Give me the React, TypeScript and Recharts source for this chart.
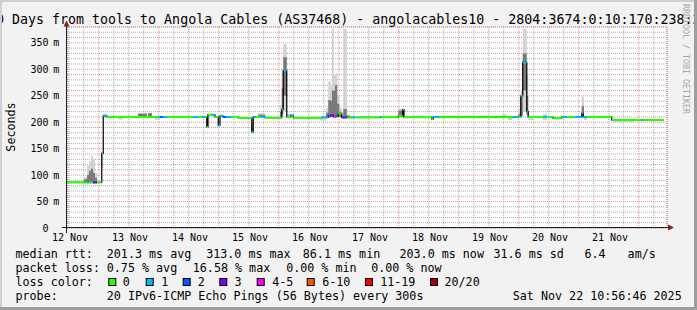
import React from 'react';
import { ComposedChart, XAxis, YAxis, CartesianGrid, Line, Area } from 'recharts';

const FONT = '"DejaVu Sans Mono", "Liberation Mono", monospace';

// time unit: hours since 12 Nov 00:00
const domainX: [number, number] = [11.3, 251.3];
const dataEnd = 250.1;

// median rtt steps (start time, value in ms, loss bin)
const stepStart = [
  11.3, 19.3, 20.1, 21.7, 23.3, 25.2, 25.8, 27.3, 47.7, 48.5,
  49.7, 51.3, 61.7, 63.7, 65.3, 66.5, 67.2, 67.7, 69.3, 70.5,
  71.8, 72.5, 73.7, 74.9, 76.9, 79.7, 85.2, 85.8, 86.7, 88.5,
  90.5, 97.2, 97.8, 99.2, 100.8, 101.8, 113.2, 115.8, 116.8, 117.8,
  118.9, 119.8, 121.2, 122.5, 123.4, 125.2, 126.5, 136.5, 137.2, 143.8,
  145.6, 146.1, 157.2, 157.8, 159.8, 189.8, 191.8, 192.8, 193.6, 195.2,
  195.8, 201.7, 203.3, 205.7, 209.2, 209.7, 211.3, 214.5, 217.2, 217.8,
  219.2, 229.2, 241.2, 241.8,
];
const medianMs = [
  86.1, 86.1, 86.1, 86.1, 86.1, 141, 212, 210, 210, 210,
  210, 210, 210, 210, 210, 210, 191, 214.5, 214, 210,
  194, 212, 210, 210, 210, 208, 182, 210, 210, 210,
  208.5, 224, 298, 210, 213, 208.5, 209, 212, 213.6, 210.4,
  211.7, 216.8, 209, 209, 209, 209, 209, 209.3, 209.3, 212,
  224, 209.3, 206, 210, 209.5, 210, 210, 249.6, 313, 220,
  210, 210, 210, 207.4, 210, 210, 210, 210, 216.8, 210,
  210, 204, 204, 204,
];
const lossBin = [
  0, 1, 0, 3, 0, 1, 1, 0, 1, 2,
  1, 0, 1, 0, 1, 0, 0, 0, 1, 0,
  1, 1, 2, 1, 0, 0, 1, 1, 0, 1,
  0, 1, 1, 0, 1, 0, 1, 2, 3, 4,
  2, 0, 3, 2, 0, 1, 0, 1, 0, 0,
  0, 0, 0, 1, 0, 1, 0, 1, 1, 1,
  0, 1, 0, 0, 0, 1, 0, 1, 1, 1,
  0, 0, 1, 0,
];

// smoke (spread of the pings)
const smokeStart = [
  18.1, 19.3, 20.1, 20.9, 21.7, 22.5, 25.2, 25.8, 31.7, 39.7,
  43.7, 46.5, 85.2, 87.7, 96.5, 97.2, 97.8, 99.2, 112.5, 114.9,
  115.8, 116.8, 117.3, 118.1, 118.5, 119.4, 120.2, 121.2, 121.8, 123.2,
  143.8, 185.2, 187.7, 191.8, 192.8, 193.6, 195.2, 195.8, 201.7, 217.2,
  218.1, 229.7,
];
const smokeEnd = [
  19.3, 20.1, 20.9, 21.7, 22.5, 23.3, 25.8, 27.3, 33.7, 43.3,
  45.3, 48.5, 85.8, 90.5, 97.2, 97.8, 99.2, 100.8, 114.9, 115.8,
  116.8, 117.3, 118.1, 118.5, 119.4, 120.2, 121.2, 121.8, 123.2, 124.5,
  146.1, 187.2, 189.3, 192.8, 193.6, 195.2, 195.8, 197.7, 203.3, 218.1,
  219.3, 237.7,
];
const smokeLow = [
  84, 84, 84, 84, 84, 84, 113, 209, 205, 209,
  209, 204, 178, 209, 207, 210, 220, 207, 203, 208,
  208, 208, 208, 208, 208, 208, 208, 207, 207, 207,
  210, 209, 204, 208, 208, 220, 210, 204, 204, 209,
  204, 200,
];
const smokeHigh = [
  96, 118, 126, 136, 130, 104, 141, 216, 211, 218,
  218, 211, 200, 217, 232, 300, 348, 216, 209, 227,
  277, 267, 377, 289, 292, 251, 227, 215, 376, 215,
  226, 215, 210, 225, 262, 376, 292, 212, 216, 248,
  211, 204,
];
const coreLow: (number | null)[] = [
  85, 86, 86, 87, 86, 85, null, 210, null, 210,
  210, null, 180, 210, 208, 215, 250, 208, null, 209,
  210, 210, 210, 210, 211, 210, 210, null, 209, 208,
  211, null, null, 209, 212, 260, 214, null, null, 211,
  null, null,
];
const coreHigh: (number | null)[] = [
  92, 100, 108, 112, 104, 95, null, 213, null, 216,
  217, null, 190, 214, 220, 265, 323, 212, null, 218,
  242, 240, 260, 260, 270, 235, 220, null, 225, 212,
  222, null, null, 215, 250, 330, 250, null, null, 230,
  null, null,
];

// axis ticks
const dayTicks = [12.5, 36.5, 60.5, 84.5, 108.5, 132.5, 156.5, 180.5, 204.5, 228.5];
const dayLabels = ['12 Nov', '13 Nov', '14 Nov', '15 Nov', '16 Nov', '17 Nov', '18 Nov', '19 Nov', '20 Nov', '21 Nov'];
const midnightTicks = [24, 48, 72, 96, 120, 144, 168, 192, 216, 240];
const sixHourTicks = [
  12, 18, 30, 36, 42, 54, 60, 66, 78, 84, 90, 102, 108, 114, 126, 132, 138,
  150, 156, 162, 174, 180, 186, 198, 204, 210, 222, 228, 234, 246,
];
const yTicks = [0, 50, 100, 150, 200, 250, 300, 350];
const yMinorTicks = [
  10, 20, 30, 40, 60, 70, 80, 90, 110, 120, 130, 140, 160, 170, 180, 190,
  210, 220, 230, 240, 260, 270, 280, 290, 310, 320, 330, 340, 360, 370,
];

const lossColors = ['#26ff00', '#00b8ff', '#0059ff', '#7e00ff', '#ff00ff', '#ff5500', '#ff0000', '#a10000'];
const lossLabels = ['0', '1', '2', '3', '4-5', '6-10', '11-19', '20/20'];

type Row = { t: number; [k: string]: any };

function buildTable(): Row[] {
  const rows: Row[] = [];
  stepStart.forEach((t0, i) => {
    const t1 = i + 1 < stepStart.length ? stepStart[i + 1] : dataEnd;
    const key = `seg${lossBin[i]}`;
    rows.push({ t: t0, median: medianMs[i], [key]: medianMs[i] });
    rows.push({ t: t1, median: medianMs[i], [key]: medianMs[i] });
    rows.push({ t: t1 });
  });
  smokeStart.forEach((s0, j) => {
    const s1 = smokeEnd[j];
    const outer = [smokeLow[j], smokeHigh[j]];
    const cl = coreLow[j];
    const ch = coreHigh[j];
    const inner = cl == null || ch == null ? undefined : [cl, ch];
    rows.push({ t: s0, outer, inner });
    rows.push({ t: s1, outer, inner });
    rows.push({ t: s1 });
  });
  return rows;
}

const table = buildTable();

const XTick = (props: any) => {
  const { x, y, payload } = props;
  const idx = dayTicks.indexOf(payload.value);
  return (
    <text x={x} y={y + 12.7} textAnchor="middle" fontFamily={FONT} fontSize={10} fill="#000">
      {idx >= 0 ? dayLabels[idx] : ''}
    </text>
  );
};

const YTick = (props: any) => {
  const { x, y, payload } = props;
  const v = payload.value;
  return (
    <g>
      <text x={x - 18.5} y={y + 3.5} textAnchor="end" fontFamily={FONT} fontSize={10} fill="#000">
        {String(v)}
      </text>
      {v !== 0 && (
        <text x={x - 13.8} y={y + 3.5} textAnchor="start" fontFamily={FONT} fontSize={10} fill="#000">
          m
        </text>
      )}
    </g>
  );
};

const legendRows: { y: number; items: [number, string][] }[] = [
  {
    y: 258.3,
    items: [
      [15.5, 'median rtt:'],
      [106.8, '201.3 ms avg'],
      [206.2, '313.0 ms max'],
      [302.8, '86.1 ms min'],
      [399.5, '203.0 ms now'],
      [493.5, '31.6 ms sd'],
      [584.5, '6.4'],
      [627.6, 'am/s'],
    ],
  },
  {
    y: 272.3,
    items: [
      [15.5, 'packet loss:'],
      [106.8, '0.75 % avg'],
      [192.8, '16.58 % max'],
      [286.2, '0.00 % min'],
      [371.2, '0.00 % now'],
    ],
  },
  { y: 286.2, items: [[15.5, 'loss color:']] },
  {
    y: 300,
    items: [
      [15.5, 'probe:'],
      [106.8, '20 IPv6-ICMP Echo Pings (56 Bytes) every 300s'],
      [512.8, 'Sat Nov 22 10:56:46 2025'],
    ],
  },
];
const swatchX = [108.3, 145.7, 182.7, 219.3, 256.7, 306.7, 365, 430];
const swatchLabelX = [122.8, 161.2, 197.8, 234.5, 272.2, 322.2, 380.2, 444.5];

export default function App() {
  return (
    <div style={{ position: 'absolute', left: 0, top: 0, width: 697, height: 310, background: '#f2f2f2' }}>
      <ComposedChart
        width={697}
        height={310}
        data={table}
        margin={{ top: 27, right: 30, bottom: 0, left: 0 }}
        style={{ fontFamily: FONT }}
      >
        <XAxis
          xAxisId="main"
          type="number"
          dataKey="t"
          domain={domainX}
          allowDataOverflow
          ticks={dayTicks}
          interval={0}
          height={82}
          tickSize={0}
          tickMargin={0}
          axisLine={false}
          tickLine={false}
          tick={<XTick />}
        />
        <XAxis xAxisId="minor" type="number" dataKey="t" domain={domainX} allowDataOverflow ticks={sixHourTicks} interval={0} hide />
        <XAxis xAxisId="major" type="number" dataKey="t" domain={domainX} allowDataOverflow ticks={midnightTicks} interval={0} hide />
        <YAxis
          yAxisId="main"
          type="number"
          domain={[0, 380]}
          allowDataOverflow
          ticks={yTicks}
          interval={0}
          width={67}
          tickSize={0}
          tickMargin={0}
          axisLine={false}
          tickLine={false}
          tick={<YTick />}
        />
        <YAxis yAxisId="minor" type="number" domain={[0, 380]} allowDataOverflow ticks={yMinorTicks} interval={0} hide />
        <CartesianGrid xAxisId="minor" yAxisId="minor" stroke="rgba(143,143,143,0.75)" strokeDasharray="1 1" fill="#ffffff" fillOpacity={1} />
        <CartesianGrid xAxisId="major" yAxisId="main" stroke="rgba(222,79,79,0.6)" strokeDasharray="1 1" />
        <Area
          xAxisId="main"
          yAxisId="main"
          dataKey="outer"
          type="linear"
          stroke="none"
          fill="#d2d2d2"
          fillOpacity={1}
          connectNulls={false}
          isAnimationActive={false}
          dot={false}
          activeDot={false}
        />
        <Area
          xAxisId="main"
          yAxisId="main"
          dataKey="inner"
          type="linear"
          stroke="none"
          fill="#7a7a7a"
          fillOpacity={1}
          connectNulls={false}
          isAnimationActive={false}
          dot={false}
          activeDot={false}
        />
        <Line
          xAxisId="main"
          yAxisId="main"
          dataKey="median"
          type="linear"
          stroke="#000000"
          strokeWidth={1.2}
          dot={false}
          activeDot={false}
          connectNulls
          isAnimationActive={false}
        />
        {lossColors.map((c, b) => (
          <Line
            key={b}
            xAxisId="main"
            yAxisId="main"
            dataKey={`seg${b}`}
            type="linear"
            stroke={c}
            strokeWidth={2}
            dot={false}
            activeDot={false}
            connectNulls={false}
            isAnimationActive={false}
          />
        ))}
      </ComposedChart>
      <svg
        width={697}
        height={310}
        style={{ position: 'absolute', left: 0, top: 0, pointerEvents: 'none' }}
        fontFamily={FONT}
      >
        <text x={-12} y={23.5} fontSize={13.3} fill="#000">
          10 Days from tools to Angola Cables (AS37468) - angolacables10 - 2804:3674:0:10:170:238:2
        </text>
        <text transform="translate(683,4) rotate(90)" fontSize={8.3} fill="#a8a8a8">
          RRDTOOL / TOBI OETIKER
        </text>
        <text transform="translate(15,127) rotate(-90)" textAnchor="middle" fontSize={11.7} fill="#000">
          Seconds
        </text>
        <line x1={66.5} y1={233} x2={66.5} y2={24} stroke="#1f1f1f" strokeWidth={1} />
        <polygon points="63.5,26.5 66.5,20.5 69.5,26.5" fill="#801f1f" />
        <line x1={62} y1={227.5} x2={669} y2={227.5} stroke="#1f1f1f" strokeWidth={1} />
        <polygon points="668,224.5 674,227.5 668,230.5" fill="#801f1f" />
        {legendRows.map((r, i) =>
          r.items.map(([x, s], k) => (
            <text key={`${i}-${k}`} x={x} y={r.y} fontSize={11.7} fill="#000">
              {s}
            </text>
          ))
        )}
        {lossColors.map((c, b) => (
          <g key={b}>
            <rect x={swatchX[b] + 0.5} y={278.5} width={7} height={7} fill={c} stroke="#000" strokeWidth={1} />
            <text x={swatchLabelX[b]} y={286.2} fontSize={11.7} fill="#000">
              {lossLabels[b]}
            </text>
          </g>
        ))}
        <rect x={0} y={0} width={697} height={2} fill="#cfcfcf" />
        <rect x={0} y={0} width={2} height={310} fill="#cfcfcf" />
        <rect x={694} y={0} width={3} height={310} fill="#9e9e9e" />
        <rect x={0} y={307} width={697} height={3} fill="#9e9e9e" />
      </svg>
    </div>
  );
}
